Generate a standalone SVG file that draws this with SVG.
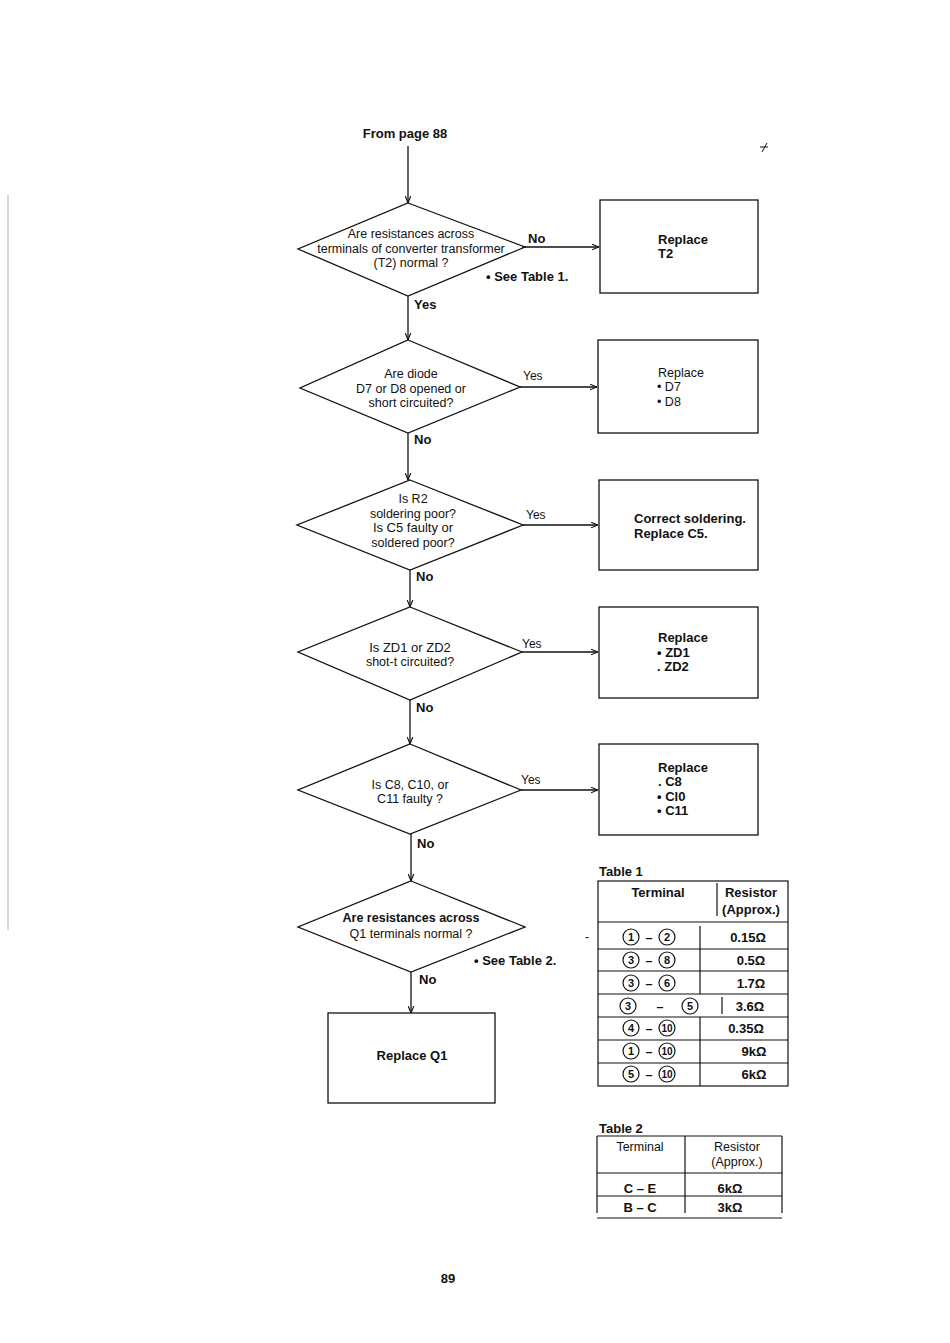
<svg xmlns="http://www.w3.org/2000/svg" width="950" height="1343" viewBox="0 0 950 1343">
<style>
text{font-family:"Liberation Sans",Arial,sans-serif;font-size:12.5px;fill:#111}
.h{font-family:"Liberation Sans Narrow","Liberation Sans",Arial,sans-serif;font-weight:bold;font-size:13px}
.c{text-anchor:middle}
.b{font-weight:bold}
.shape{fill:none;stroke:#111;stroke-width:1.3}
.ln{fill:none;stroke:#111;stroke-width:1.3}
.tl{fill:none;stroke:#111;stroke-width:1.2}
.circ{fill:none;stroke:#111;stroke-width:1.2}
.n{font-size:11px;font-weight:bold;text-anchor:middle}
</style>
<defs>
<marker id="ar" viewBox="0 0 10 10" refX="10" refY="5" markerWidth="7" markerHeight="7" orient="auto" markerUnits="userSpaceOnUse">
<path d="M0,1 L10,5 L0,9" fill="none" stroke="#111" stroke-width="1.6"/>
</marker>
</defs>
<rect width="950" height="1343" fill="#fff"/>
<line x1="8" y1="195" x2="8" y2="930" stroke="#999" stroke-width="0.8"/>
<path d="M762,152 L767,143 M760,147 L768,147" stroke="#111" stroke-width="1" fill="none"/>

<g id="connectors">
<line class="ln" x1="408" y1="146" x2="408" y2="203" marker-end="url(#ar)"/>
<line class="ln" x1="522" y1="247" x2="599" y2="247" marker-end="url(#ar)"/>
<line class="ln" x1="408" y1="296" x2="408" y2="340" marker-end="url(#ar)"/>
<line class="ln" x1="520" y1="387" x2="597" y2="387" marker-end="url(#ar)"/>
<line class="ln" x1="408" y1="433" x2="408" y2="480" marker-end="url(#ar)"/>
<line class="ln" x1="523" y1="525" x2="598" y2="525" marker-end="url(#ar)"/>
<line class="ln" x1="410" y1="570" x2="410" y2="607" marker-end="url(#ar)"/>
<line class="ln" x1="522" y1="652" x2="598" y2="652" marker-end="url(#ar)"/>
<line class="ln" x1="410" y1="700" x2="410" y2="744" marker-end="url(#ar)"/>
<line class="ln" x1="521" y1="790" x2="598" y2="790" marker-end="url(#ar)"/>
<line class="ln" x1="411" y1="834" x2="411" y2="881" marker-end="url(#ar)"/>
<line class="ln" x1="411" y1="972" x2="411" y2="1013" marker-end="url(#ar)"/>
<text class="h" x="528" y="243">No</text>
<text class="h" x="414" y="309">Yes</text>
<text x="523" y="380" style="font-size:12px">Yes</text>
<text class="h" x="414" y="444">No</text>
<text x="526" y="519" style="font-size:12px">Yes</text>
<text class="h" x="416" y="581">No</text>
<text x="522" y="648" style="font-size:12px">Yes</text>
<text class="h" x="416" y="712">No</text>
<text x="521" y="784" style="font-size:12px">Yes</text>
<text class="h" x="417" y="848">No</text>
<text class="h" x="419" y="984">No</text>
</g>

<text class="c h" x="405" y="138">From page 88</text>

<g id="d1">
<polygon class="shape" points="408,203 525,247 408,296 298,249"/>
<text class="c" x="411" y="238">Are resistances across</text>
<text class="c" x="411" y="253">terminals of converter transformer</text>
<text class="c" x="411" y="267">(T2) normal ?</text>
<text class="h" x="486" y="281">• See Table 1.</text>
</g>
<g id="b1">
<rect class="shape" x="600" y="200" width="158" height="93"/>
<text class="h" x="658" y="244">Replace</text>
<text class="h" x="658" y="258">T2</text>
</g>

<g id="d2">
<polygon class="shape" points="408,340 520,387 408,433 300,388"/>
<text class="c" x="411" y="378">Are diode</text>
<text class="c" x="411" y="393">D7 or D8 opened or</text>
<text class="c" x="411" y="407">short circuited?</text>
</g>
<g id="b2">
<rect class="shape" x="598" y="340" width="160" height="93"/>
<text x="658" y="377">Replace</text>
<text x="657" y="391">• D7</text>
<text x="657" y="406">• D8</text>
</g>

<g id="d3">
<polygon class="shape" points="410,480 523,525 410,570 297,525"/>
<text class="c" x="413" y="503">Is R2</text>
<text class="c" x="413" y="518">soldering poor?</text>
<text class="c" x="413" y="532" style="font-size:13px">Is C5 faulty or</text>
<text class="c" x="413" y="547">soldered poor?</text>
</g>
<g id="b3">
<rect class="shape" x="599" y="480" width="159" height="90"/>
<text class="h" x="634" y="523">Correct  soldering.</text>
<text class="h" x="634" y="538">Replace  C5.</text>
</g>

<g id="d4">
<polygon class="shape" points="410,607 522,652 410,700 298,652"/>
<text class="c" x="410" y="652" style="font-size:13px">Is ZD1 or ZD2</text>
<text class="c" x="410" y="666">shot-t  circuited?</text>
</g>
<g id="b4">
<rect class="shape" x="599" y="607" width="159" height="91"/>
<text class="h" x="658" y="642">Replace</text>
<text class="h" x="657" y="657">•  ZD1</text>
<text class="h" x="657" y="671">.  ZD2</text>
</g>

<g id="d5">
<polygon class="shape" points="410,744 521,790 410,834 298,790"/>
<text class="c" x="410" y="789">Is C8, C10, or</text>
<text class="c" x="410" y="803">C11 faulty ?</text>
</g>
<g id="b5">
<rect class="shape" x="599" y="744" width="159" height="91"/>
<text class="h" x="658" y="772">Replace</text>
<text class="h" x="658" y="786">. C8</text>
<text class="h" x="657" y="801">•  Cl0</text>
<text class="h" x="657" y="815">• C11</text>
</g>

<g id="d6">
<polygon class="shape" points="411,881 525,927 411,972 298,927"/>
<text class="c h" x="411" y="922" style="font-size:12.5px">Are  resistances  across</text>
<text class="c" x="411" y="938">Q1 terminals normal ?</text>
<text class="h" x="474" y="965">• See Table 2.</text>
</g>
<g id="b6">
<rect class="shape" x="328" y="1013" width="167" height="90"/>
<text class="c h" x="412" y="1060">Replace  Q1</text>
</g>

<g id="table1">
<text class="h" x="599" y="876">Table 1</text>
<rect class="tl" x="598" y="881" width="190" height="205"/>
<line class="tl" x1="717" y1="883" x2="717" y2="916"/>
<line class="tl" x1="598" y1="922" x2="788" y2="922"/>
<line class="tl" x1="598" y1="949" x2="788" y2="949"/>
<line class="tl" x1="598" y1="971" x2="788" y2="971"/>
<line class="tl" x1="598" y1="994" x2="788" y2="994"/>
<line class="tl" x1="598" y1="1017" x2="788" y2="1017"/>
<line class="tl" x1="598" y1="1040" x2="788" y2="1040"/>
<line class="tl" x1="598" y1="1063" x2="788" y2="1063"/>
<line class="tl" x1="700" y1="926" x2="700" y2="994"/>
<line class="tl" x1="722" y1="997" x2="722" y2="1014"/>
<line class="tl" x1="700" y1="1017" x2="700" y2="1086"/>
<text class="c h" x="658" y="897">Terminal</text>
<text class="c h" x="751" y="897">Resistor</text>
<text class="c h" x="751" y="914">(Approx.)</text>
<circle class="circ" cx="631" cy="937" r="8"/><text class="n" x="631" y="941">1</text>
<text class="b c" x="649" y="942">–</text>
<circle class="circ" cx="667" cy="937" r="8"/><text class="n" x="667" y="941">2</text>
<text class="h c" x="748" y="942">0.15Ω</text>
<circle class="circ" cx="631" cy="960" r="8"/><text class="n" x="631" y="964">3</text>
<text class="b c" x="649" y="965">–</text>
<circle class="circ" cx="667" cy="960" r="8"/><text class="n" x="667" y="964">8</text>
<text class="h c" x="751" y="965">0.5Ω</text>
<circle class="circ" cx="631" cy="983" r="8"/><text class="n" x="631" y="987">3</text>
<text class="b c" x="649" y="988">–</text>
<circle class="circ" cx="667" cy="983" r="8"/><text class="n" x="667" y="987">6</text>
<text class="h c" x="751" y="988">1.7Ω</text>
<circle class="circ" cx="628" cy="1006" r="8"/><text class="n" x="628" y="1010">3</text>
<text class="b c" x="660" y="1011">–</text>
<circle class="circ" cx="690" cy="1006" r="8"/><text class="n" x="690" y="1010">5</text>
<text class="h c" x="750" y="1011">3.6Ω</text>
<circle class="circ" cx="631" cy="1028" r="8"/><text class="n" x="631" y="1032">4</text>
<text class="b c" x="649" y="1033">–</text>
<circle class="circ" cx="667" cy="1028" r="8"/><text class="n" x="667" y="1032" style="font-size:10px">10</text>
<text class="h c" x="746" y="1033">0.35Ω</text>
<circle class="circ" cx="631" cy="1051" r="8"/><text class="n" x="631" y="1055">1</text>
<text class="b c" x="649" y="1056">–</text>
<circle class="circ" cx="667" cy="1051" r="8"/><text class="n" x="667" y="1055" style="font-size:10px">10</text>
<text class="h c" x="754" y="1056">9kΩ</text>
<circle class="circ" cx="631" cy="1074" r="8"/><text class="n" x="631" y="1078">5</text>
<text class="b c" x="649" y="1079">–</text>
<circle class="circ" cx="667" cy="1074" r="8"/><text class="n" x="667" y="1078" style="font-size:10px">10</text>
<text class="h c" x="754" y="1079">6kΩ</text>
<text x="585" y="941">-</text>
</g>

<g id="table2">
<text class="h" x="599" y="1133">Table 2</text>
<line class="tl" x1="597" y1="1136" x2="782" y2="1136"/>
<line class="tl" x1="597" y1="1136" x2="597" y2="1213"/>
<line class="tl" x1="782" y1="1136" x2="782" y2="1213"/>
<line class="tl" x1="685" y1="1136" x2="685" y2="1213"/>
<line class="tl" x1="597" y1="1173" x2="782" y2="1173"/>
<line class="tl" x1="597" y1="1196" x2="782" y2="1196"/>
<line class="tl" x1="597" y1="1218" x2="782" y2="1218"/>
<text class="c" x="640" y="1151">Terminal</text>
<text class="c" x="737" y="1151">Resistor</text>
<text class="c" x="737" y="1166">(Approx.)</text>
<text class="c h" x="640" y="1193">C – E</text>
<text class="c h" x="730" y="1193">6kΩ</text>
<text class="c h" x="640" y="1212">B – C</text>
<text class="c h" x="730" y="1212">3kΩ</text>
</g>

<text class="c h" x="448" y="1283">89</text>
</svg>
